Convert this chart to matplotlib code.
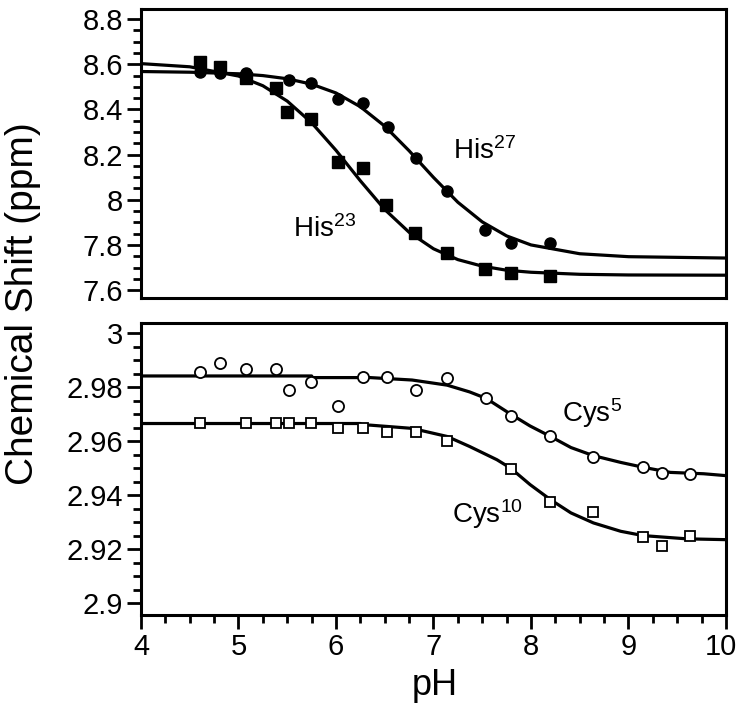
import matplotlib
matplotlib.use("Agg")
import matplotlib.pyplot as plt
from matplotlib.ticker import MultipleLocator
from matplotlib.transforms import ScaledTranslation

plt.rcParams['font.family'] = ['Liberation Sans', 'DejaVu Sans']
plt.rcParams['mathtext.fontset'] = 'custom'
plt.rcParams['mathtext.rm'] = 'Liberation Sans'
plt.rcParams['mathtext.it'] = 'Liberation Sans'

# --- data ---
his23_ph = [4.61, 4.81, 5.08, 5.38, 5.50, 5.74, 6.02, 6.28, 6.51, 6.81, 7.14, 7.53, 7.79, 8.20]
his23 = [8.609, 8.587, 8.538, 8.494, 8.388, 8.357, 8.166, 8.140, 7.976, 7.852, 7.764, 7.693, 7.675, 7.662]
his27_ph = [4.61, 4.81, 5.08, 5.52, 5.74, 6.02, 6.28, 6.53, 6.82, 7.14, 7.53, 7.79, 8.20]
his27 = [8.565, 8.560, 8.560, 8.529, 8.516, 8.445, 8.427, 8.321, 8.184, 8.038, 7.865, 7.808, 7.808]

# fitted curves (traced)
fit_ph_top = [4.0, 4.5, 5.0, 5.25, 5.5, 5.75, 6.0, 6.25, 6.5, 6.75, 7.0, 7.25, 7.5, 7.75, 8.0, 8.5, 9.0, 10.0]
his23_fit = [8.603, 8.589, 8.548, 8.505, 8.437, 8.341, 8.219, 8.084, 7.957, 7.856, 7.783, 7.735, 7.706, 7.688, 7.679, 7.670, 7.667, 7.666]
his27_fit = [8.568, 8.565, 8.558, 8.550, 8.536, 8.512, 8.473, 8.412, 8.326, 8.217, 8.099, 7.989, 7.902, 7.840, 7.800, 7.761, 7.748, 7.742]

cys5_ph = [4.61, 4.81, 5.08, 5.38, 5.52, 5.74, 6.02, 6.28, 6.52, 6.82, 7.14, 7.54, 7.79, 8.20, 8.64, 9.15, 9.34, 9.63]
cys5 = [2.9856, 2.9888, 2.9867, 2.9867, 2.9789, 2.9820, 2.9730, 2.9838, 2.9838, 2.9789, 2.9833, 2.9759, 2.9693, 2.9620, 2.9542, 2.9505, 2.9483, 2.9478]
cys10_ph = [4.61, 5.08, 5.38, 5.52, 5.74, 6.02, 6.28, 6.52, 6.82, 7.14, 7.79, 8.20, 8.64, 9.15, 9.34, 9.63]
cys10 = [2.9668, 2.9668, 2.9668, 2.9668, 2.9668, 2.9649, 2.9649, 2.9632, 2.9632, 2.9601, 2.9495, 2.9373, 2.9338, 2.9246, 2.9211, 2.9248]

cys5_fit_ph = [4.0, 5.75, 5.76, 6.35, 6.78, 7.14, 7.37, 7.54, 7.79, 7.99, 8.20, 8.41, 8.64, 8.92, 9.15, 9.43, 9.77, 10.0]
cys5_fit = [2.9841, 2.9841, 2.9835, 2.9835, 2.9826, 2.9807, 2.9782, 2.9758, 2.9700, 2.9656, 2.9617, 2.9576, 2.9546, 2.9521, 2.9503, 2.9484, 2.9479, 2.9472]
cys10_fit_ph = [4.0, 6.25, 6.26, 6.35, 6.78, 7.14, 7.37, 7.65, 7.79, 7.99, 8.20, 8.41, 8.64, 8.92, 9.15, 9.60, 10.0]
cys10_fit = [2.9665, 2.9665, 2.9659, 2.9659, 2.9647, 2.9617, 2.9580, 2.9531, 2.9500, 2.9439, 2.9383, 2.9334, 2.9297, 2.9266, 2.9250, 2.9238, 2.9235]

top_ticks = [7.6, 7.8, 8.0, 8.2, 8.4, 8.6, 8.8]
top_labels = ['7.6', '7.8', '8', '8.2', '8.4', '8.6', '8.8']
bot_ticks = [2.90, 2.92, 2.94, 2.96, 2.98, 3.00]
bot_labels = ['2.9', '2.92', '2.94', '2.96', '2.98', '3']
x_ticks = [4, 5, 6, 7, 8, 9, 10]

fig = plt.figure(figsize=(7.39, 7.07), dpi=100)
ax1 = fig.add_axes([0.1908, 0.5785, 0.7916, 0.4088])
ax2 = fig.add_axes([0.1908, 0.1301, 0.7916, 0.4130])

lw = 2.3
ax1.plot(fit_ph_top, his23_fit, color='black', lw=lw)
ax1.plot(fit_ph_top, his27_fit, color='black', lw=lw)
ax1.plot(his23_ph, his23, 's', color='black', ms=8)
ax1.plot(his27_ph, his27, 'o', color='black', ms=8)
ax1.text(7.20, 8.215, r'His$^{\mathrm{27}}$', fontsize=20, va='center')
ax1.text(5.56, 7.87, r'His$^{\mathrm{23}}$', fontsize=20, va='center')

ax2.plot(cys5_fit_ph, cys5_fit, color='black', lw=lw)
ax2.plot(cys10_fit_ph, cys10_fit, color='black', lw=lw)
ax2.plot(cys5_ph, cys5, 'o', mfc='white', mec='black', mew=1.3, ms=8)
ax2.plot(cys10_ph, cys10, 's', mfc='white', mec='black', mew=1.3, ms=7)
ax2.text(8.32, 2.9704, r'Cys$^{\mathrm{5}}$', fontsize=20, va='center')
ax2.text(7.19, 2.9330, r'Cys$^{\mathrm{10}}$', fontsize=20, va='center')

ax1.set_xlim(4, 10)
ax2.set_xlim(4, 10)
ax1.set_ylim(7.565, 8.845)
ax2.set_ylim(2.8956, 3.0037)

ax1.set_yticks(top_ticks)
ax1.set_yticklabels(top_labels)
ax1.yaxis.set_minor_locator(MultipleLocator(0.05))
ax1.set_xticks([])

ax2.set_yticks(bot_ticks)
ax2.set_yticklabels(bot_labels)
ax2.yaxis.set_minor_locator(MultipleLocator(0.005))
ax2.set_xticks(x_ticks)
ax2.set_xticklabels([str(t) for t in x_ticks])
ax2.xaxis.set_minor_locator(MultipleLocator(0.25))

for ax in (ax1, ax2):
    for s in ax.spines.values():
        s.set_linewidth(2.2)
    ax.tick_params(which='major', direction='out', length=10, width=2, labelsize=21, pad=3)
    ax.tick_params(which='minor', direction='out', length=6, width=2)
    ax.tick_params(top=False, right=False)
ax1.tick_params(axis='x', which='both', bottom=False)

# last x label sits a little inside the edge
last = ax2.get_xticklabels()[-1]
last.set_transform(last.get_transform() + ScaledTranslation(-0.05, 0, fig.dpi_scale_trans))

fig.text(0.056, 0.570, 'Chemical Shift (ppm)', rotation=90, fontsize=28, ha='right', va='center')
fig.text(0.588, 0.030, 'pH', fontsize=26, ha='center', va='center')

fig.savefig('out.png', dpi=100)
